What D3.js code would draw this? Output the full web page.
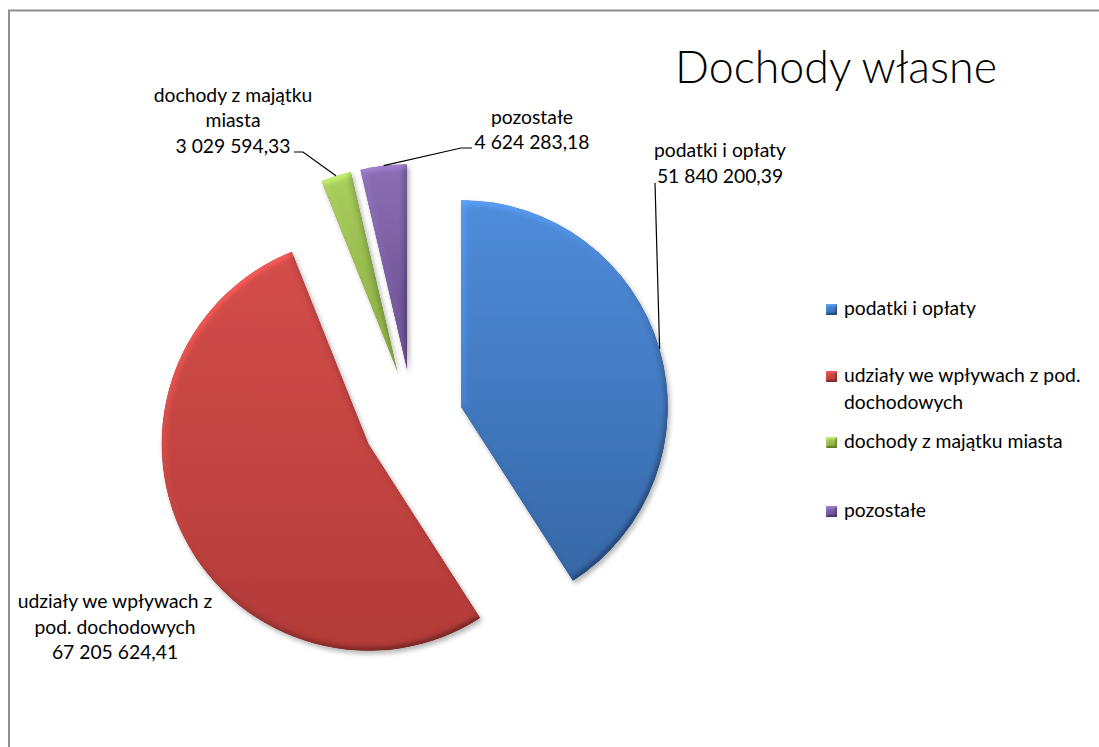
<!DOCTYPE html>
<html>
<head>
<meta charset="utf-8">
<script src="https://cdn.jsdelivr.net/npm/d3@7"></script>
<style>
  html, body { margin: 0; padding: 0; background: #fff; }
  svg { display: block; font-family: Lato, "Open Sans", sans-serif; }
</style>
</head>
<body>
<svg id="chart"></svg>
<script>
// Data
const categories = ["podatki i opłaty", "udziały we wpływach z pod. dochodowych", "dochody z majątku miasta", "pozostałe"];
const values = [51840200.39, 67205624.41, 3029594.33, 4624283.18];
const labelLines = [["podatki i opłaty"], ["udziały we wpływach z", "pod. dochodowych"], ["dochody z majątku", "miasta"], ["pozostałe"]];
const legendLines = [["podatki i opłaty"], ["udziały we wpływach z pod.", "dochodowych"], ["dochody z majątku miasta"], ["pozostałe"]];
const colorsTop = ["#4f8cdb", "#d44d4a", "#a9cf5e", "#8b6db5"];
const colorsBottom = ["#3667a6", "#b23b38", "#85a63e", "#684c8c"];

// Layout
const width = 1099;
const height = 747;
const cx = 413, cy = 421;
const radius = 207;
const explode = 50;
const lineHeight = 25.5;

// label placement (center x, first baseline) and leader elbow points
const labelPos = [
  { x: 720, y: 157, leader: [[655, 183]] },
  { x: 115, y: 608, leader: null },
  { x: 233, y: 101.5, leader: [[294, 152], [303, 152]] },
  { x: 532, y: 123.5, leader: [[472, 148], [461, 148]] }
];
const legendX = 826;
const legendY = [315, 382, 448, 517];

const svg = d3.select("#chart")
    .attr("width", width)
    .attr("height", height)
    .attr("viewBox", [0, 0, width, height]);

const fmt = d3.formatLocale({ decimal: ",", thousands: " ", grouping: [3], currency: ["", ""] }).format(",.2f");

// fit font size so the Calibri-like widths match
const probe = svg.append("text").attr("font-size", 20).text("podatki i opłaty");
const fontSize = 20 * 132 / probe.node().getComputedTextLength();
probe.remove();

const defs = svg.append("defs");

// bevel + shadow filter
function makeBevel(id, blur, scale, shadow) {
  const f = defs.append("filter").attr("id", id)
      .attr("filterUnits", "userSpaceOnUse")
      .attr("x", -width).attr("y", -height).attr("width", width * 3).attr("height", height * 3);
  f.append("feGaussianBlur").attr("in", "SourceAlpha").attr("stdDeviation", blur).attr("result", "blur");
  f.append("feDiffuseLighting").attr("in", "blur").attr("surfaceScale", scale)
      .attr("diffuseConstant", 1).attr("lighting-color", "#fff").attr("result", "light")
    .append("feDistantLight").attr("azimuth", 235).attr("elevation", 30);
  f.append("feComposite").attr("in", "SourceGraphic").attr("in2", "light")
      .attr("operator", "arithmetic").attr("k1", 1).attr("k2", 0.5).attr("k3", 0).attr("k4", 0).attr("result", "lit");
  f.append("feComposite").attr("in", "lit").attr("in2", "SourceAlpha").attr("operator", "in").attr("result", "shape");
  if (shadow) {
    f.append("feGaussianBlur").attr("in", "SourceAlpha").attr("stdDeviation", 2.5).attr("result", "sb");
    f.append("feOffset").attr("in", "sb").attr("dx", 1.5).attr("dy", 3).attr("result", "so");
    f.append("feComponentTransfer").attr("in", "so").attr("result", "sf")
      .append("feFuncA").attr("type", "linear").attr("slope", 0.3);
    const m = f.append("feMerge");
    m.append("feMergeNode").attr("in", "sf");
    m.append("feMergeNode").attr("in", "shape");
  }
}
makeBevel("bevel", 3, 3, true);
makeBevel("bevelSmall", 1.2, 2, false);

categories.forEach((c, i) => {
  const g = defs.append("linearGradient").attr("id", "grad" + i)
      .attr("x1", 0).attr("y1", 0).attr("x2", 0).attr("y2", 1);
  g.append("stop").attr("offset", 0).attr("stop-color", colorsTop[i]);
  g.append("stop").attr("offset", 1).attr("stop-color", colorsBottom[i]);
});

// chart frame
svg.append("path")
    .attr("d", `M9,${height} V10.5 H${width}`)
    .attr("fill", "none")
    .attr("stroke", "#8e8e8e")
    .attr("stroke-width", 2);

// title
svg.append("text")
    .attr("x", 675)
    .attr("y", 83)
    .attr("font-size", 45)
    .attr("font-weight", 300)
    .attr("textLength", 322)
    .attr("lengthAdjust", "spacingAndGlyphs")
    .attr("fill", "#000")
    .text("Dochody własne");

// pie
const pie = d3.pie().sort(null).value(d => d)(values);
const arc = d3.arc().innerRadius(0).outerRadius(radius);

const offset = d => {
  const a = (d.startAngle + d.endAngle) / 2;
  return [cx + explode * Math.sin(a), cy - explode * Math.cos(a)];
};

svg.append("g")
  .selectAll("path")
  .data(pie)
  .join("path")
    .attr("transform", d => `translate(${offset(d)})`)
    .attr("d", arc)
    .attr("fill", (d, i) => `url(#grad${i})`)
    .attr("filter", "url(#bevel)");

// leader lines to the middle of each slice's outer edge
const leaders = svg.append("g")
    .attr("fill", "none")
    .attr("stroke", "#000")
    .attr("stroke-width", 1.2);
pie.forEach((d, i) => {
  const lp = labelPos[i];
  if (!lp.leader) return;
  const a = (d.startAngle + d.endAngle) / 2;
  const [ox, oy] = offset(d);
  const end = [ox + radius * Math.sin(a), oy - radius * Math.cos(a)];
  leaders.append("path").attr("d", d3.line()([...lp.leader, end]));
});

// data labels
const labels = svg.append("g")
    .attr("font-size", fontSize)
    .attr("fill", "#000")
    .attr("text-anchor", "middle");
pie.forEach((d, i) => {
  const lp = labelPos[i];
  const lines = [...labelLines[i], fmt(values[i])];
  const t = labels.append("text").attr("x", lp.x).attr("y", lp.y);
  lines.forEach((l, j) => {
    t.append("tspan").attr("x", lp.x).attr("y", lp.y + j * lineHeight).text(l);
  });
});

// legend
const legend = svg.append("g").attr("font-size", fontSize).attr("fill", "#000");
categories.forEach((c, i) => {
  const y = legendY[i];
  legend.append("rect")
      .attr("x", legendX)
      .attr("y", y - 11)
      .attr("width", 11)
      .attr("height", 11)
      .attr("fill", `url(#grad${i})`)
      .attr("filter", "url(#bevelSmall)");
  const t = legend.append("text").attr("x", legendX + 18).attr("y", y);
  legendLines[i].forEach((l, j) => {
    t.append("tspan").attr("x", legendX + 18).attr("y", y + j * 26.5).text(l);
  });
});
</script>
</body>
</html>
